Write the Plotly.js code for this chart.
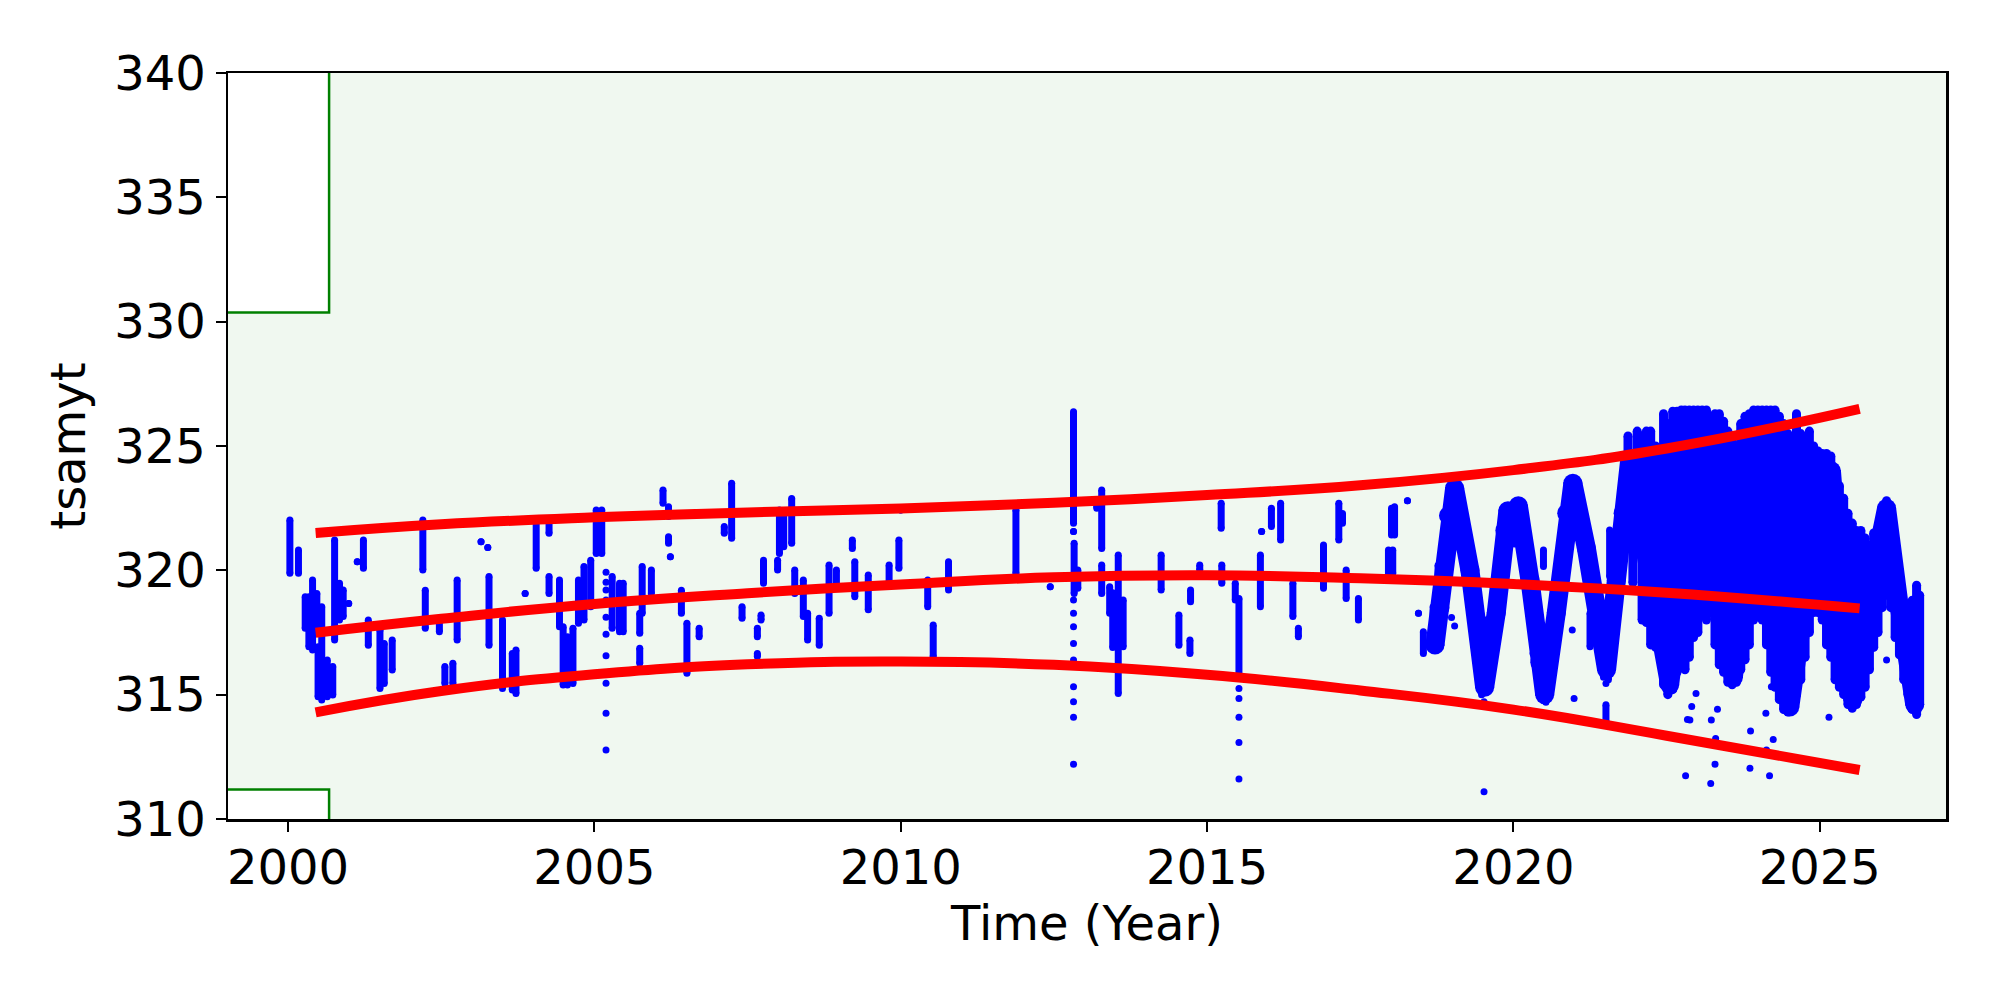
<!DOCTYPE html>
<html><head><meta charset="utf-8">
<script src="https://cdn.plot.ly/plotly-3.0.1.min.js"></script>
<style>body{margin:0;background:#fff}</style>
</head><body><div id="chart" style="width:2000px;height:1000px"></div>
<script>
// Tolerance band (step edges)
const bandX = [1990, 2000.67, 2035];
const bandLow = [311.19, 290, 290];
const bandHigh = [330.37, 360, 360];

// Fitted curves
const fitYear = [2000.45, 2002.5, 2005, 2007.5, 2010, 2012.5, 2015, 2017.5, 2020, 2022.5, 2025.65];
const fitUpper = [321.5, 321.85, 322.13, 322.33, 322.49, 322.72, 323.03, 323.42, 324.03, 324.9, 326.49];
const fitMiddle = [317.49, 318.05, 318.65, 319.08, 319.43, 319.72, 319.8, 319.68, 319.45, 319.1, 318.47];
const fitLower = [314.29, 315.15, 315.82, 316.22, 316.33, 316.2, 315.8, 315.17, 314.4, 313.35, 311.97];

// Sparse observation runs (vertical runs of consecutive readings)
const runYear = [2000.03,2000.17,2000.28,2000.34,2000.40,2000.47,2000.49,2000.55,2000.64,2000.73,2000.76,2000.84,2000.90,2000.99,2001.13,2001.23,2001.31,2001.50,2001.57,2001.70,
2002.20,2002.24,2002.47,2002.56,2002.69,2002.76,2003.15,2003.26,2003.28,2003.50,2003.66,2003.72,2003.87,2004.05,2004.26,2004.26,2004.43,2004.49,2004.56,2004.65,2004.74,2004.83,2004.94,
2005.03,2005.12,2005.29,2005.41,2005.47,2005.74,2005.74,2005.78,2005.93,2006.12,2006.21,2006.21,2006.24,2006.42,2006.51,2006.71,2007.12,2007.24,2007.41,2007.66,2007.66,2007.72,2007.76,2007.99,
2008.02,2008.09,2008.22,2008.27,2008.41,2008.48,2008.67,2008.83,2008.95,2009.21,2009.25,2009.47,2009.81,2009.97,2010.00,2010.44,2010.53,2010.78,2011.88,2012.44,2012.82,2012.82,2012.83,2012.89,
2013.20,2013.28,2013.28,2013.41,2013.46,2013.55,2013.63,2014.25,2014.54,2014.72,2014.73,2014.88,2015.23,2015.24,2015.46,2015.52,2015.87,2015.89,2016.05,2016.20,2016.40,2016.49,2016.90,
2017.15,2017.21,2017.27,2017.47,2017.96,2018.01,2018.06,2018.03,2018.27,2018.45,2018.53,2018.69,2020.49,2021.51,2021.57,2021.25,
2018.77,2019.48,2019.55,2020.45,2020.53,2021.47,2021.55];
const runLow = [319.88,319.88,317.67,316.93,316.8,317.47,314.92,314.79,314.92,314.99,317.2,318.0,318.14,318.67,320.35,320.08,316.99,315.25,315.45,315.99,
320.01,317.67,317.53,315.45,315.45,317.2,321.15,320.92,316.99,315.25,315.19,315.05,319.07,320.08,321.49,319.07,317.73,315.39,315.39,315.45,317.87,318.0,318.54,
320.68,320.68,317.67,317.53,317.53,317.47,316.26,318.27,319.07,322.7,322.16,321.09,320.55,318.27,315.86,317.33,321.49,321.29,318.07,317.33,316.53,318.0,319.48,320.01,
320.68,320.95,321.09,319.07,318.14,317.2,316.99,318.27,319.34,320.88,318.94,318.41,319.41,320.08,322.43,318.54,316.53,319.21,319.88,319.34,321.89,321.56,319.07,319.28,
322.5,320.88,319.07,318.27,316.9,315.05,316.93,319.21,316.99,316.66,318.74,320.01,321.69,319.48,318.81,315.66,318.54,321.56,321.76,321.22,318.14,317.33,319.28,
321.22,321.89,318.87,318.0,319.61,321.42,321.42,319.88,322.8,318.27,316.66,317.2,320.15,313.91,319.75,316.93,
317.6,315.0,315.1,315.3,314.7,315.7,315.6];
const runHigh = [322.02,320.82,318.94,318.94,319.61,319.07,316.93,318.54,316.39,316.13,321.22,319.48,319.21,318.67,320.35,321.22,318.0,317.6,317.06,317.2,
322.02,319.2,318.0,316.13,316.26,319.61,321.15,320.92,319.75,318.0,316.66,316.8,319.07,322.02,322.02,319.75,319.61,317.73,317.33,317.67,319.61,320.15,320.41,
322.43,322.43,319.75,319.48,319.48,318.27,316.87,320.15,320.01,323.23,322.56,321.35,320.55,319.2,317.87,317.67,321.76,323.5,318.54,317.67,316.66,318.2,320.41,320.41,
322.43,322.29,322.89,320.01,319.61,318.27,318.07,320.21,320.01,321.22,320.35,319.81,320.21,321.22,322.43,319.61,317.8,320.35,322.43,319.34,326.38,321.56,321.09,320.01,
322.63,323.23,320.21,319.34,319.1,320.62,318.81,320.62,318.2,317.2,319.21,320.21,322.7,320.21,319.48,318.87,320.62,321.56,322.5,322.7,319.48,317.67,321.02,
322.7,322.29,320.01,318.87,320.82,322.5,322.56,320.82,322.8,318.27,317.53,318.54,320.82,314.59,321.62,318.27,
320.2,317.8,318.0,317.6,317.2,317.9,318.4];

// Isolated readings
const dotYear = [2005.19,2005.19,2005.19,2005.19,2005.19,2005.19,2005.19,2005.19,2005.19,2005.19,
2012.82,2012.82,2012.82,2012.82,2012.82,2012.82,2012.82,2012.82,2012.82,
2015.52,2015.52,2015.52,2015.52,2015.52,
2018.99,2019.04,2019.52,2019.52,2020.32,2020.96,2020.99,2021.51,
2022.81,2022.84,2022.88,2022.91,2022.98,2023.22,2023.23,2023.29,2023.30,2023.33,2023.86,2023.87,2024.12,2024.13,2024.18,2024.21,2024.24,2024.24,2025.15,2026.09];
const dotValue = [319.92,319.52,319.21,318.81,318.11,317.43,316.57,315.46,314.25,312.77,
318.81,318.27,317.73,317.06,316.39,315.32,314.72,314.09,312.2,
315.25,314.85,314.09,313.08,311.61,
318.1,317.76,314.72,311.1,316.66,317.6,314.85,315.45,
311.74,314.0,313.98,314.52,315.05,311.43,313.98,312.2,313.24,314.41,312.04,313.54,314.25,312.77,311.74,315.32,313.2,315.99,314.09,316.39];

// Dense seasonal oscillation (2018.7 onward)
const waveYear = [2018.72,2018.80,2018.94,2019.04,2019.29,2019.45,2019.53,2019.72,2019.86,2019.91,2020.02,2020.08,2020.27,2020.43,2020.51,2020.70,2020.87,2020.97,
2021.19,2021.36,2021.52,2021.68,2021.79,2021.90,2022.10,2022.35,2022.55,2022.80,2023.00,2023.30,2023.59,2023.80,2024.00,2024.30,2024.51,2024.80,2025.19,2025.40,2025.54,2025.80,2026.09,2026.30,2026.55];
const waveValue = [317.0,318.5,322.2,323.3,320.0,317.0,315.3,318.3,321.6,322.4,321.3,322.6,319.6,316.3,315.0,318.3,322.3,323.5,
320.9,317.6,316.0,319.6,322.3,324.5,321.5,317.5,315.4,320.5,325.0,319.5,315.7,320.5,325.0,318.5,314.5,319.5,324.0,317.5,314.8,319.0,322.5,318.5,314.6];

// Dense span of readings (2021.9 onward)
const denseYear = [2021.87,2021.95,2022.02,2022.10,2022.17,2022.24,2022.32,2022.39,2022.45,2022.52,2022.60,2022.67,2022.74,2022.80,2022.87,2022.94,2023.01,2023.08,2023.15,2023.22,
2023.29,2023.36,2023.43,2023.50,2023.57,2023.64,2023.71,2023.78,2023.85,2023.92,2023.99,2024.06,2024.13,2024.20,2024.27,2024.34,2024.41,2024.48,2024.55,2024.62,
2024.69,2024.76,2024.83,2024.90,2024.97,2025.04,2025.11,2025.18,2025.25,2025.32,2025.39,2025.46,2025.53,2025.60,2025.67,2025.74,2025.81,2025.88,2025.95,2026.02,
2026.09,2026.16,2026.23,2026.30,2026.37,2026.44,2026.51,2026.58,2026.63];
const denseLow = [321.9,319.5,320.9,318.0,317.9,317.0,316.9,317.2,315.4,315.0,315.2,315.9,316.3,316.0,316.5,317.3,317.5,318.3,318.0,318.3,
317.0,316.2,315.9,315.5,315.4,315.5,316.0,316.4,317.0,318.0,318.3,318.0,317.0,315.9,315.3,314.8,314.4,314.3,314.4,315.0,
315.6,316.5,317.5,318.3,318.3,318.0,317.0,316.5,315.6,315.3,315.0,314.6,314.45,314.6,314.9,315.3,316.0,316.9,317.5,318.5,
319.0,318.5,317.3,316.6,315.6,315.0,314.4,314.2,314.6];
const denseHigh = [325.4,324.0,325.6,325.4,325.6,325.6,325.0,324.6,326.3,325.9,326.4,326.4,326.45,326.45,326.45,326.45,326.45,326.45,326.45,326.2,
326.3,326.3,326.0,325.6,325.2,325.0,325.9,326.2,326.3,326.45,326.45,326.45,326.45,326.45,326.45,326.2,325.9,325.5,325.2,326.3,
325.5,325.2,325.6,325.0,324.8,324.7,324.7,324.6,324.0,323.4,322.9,322.3,321.9,321.6,321.6,321.3,321.0,321.5,321.7,322.2,
322.8,322.0,320.8,319.8,318.7,318.5,318.8,319.4,319.0];

function toRuns(xs, lo, hi) {
  const x = [], y = [];
  for (let i = 0; i < xs.length; i++) { x.push(xs[i], xs[i], null); y.push(lo[i], hi[i], null); }
  return {x, y};
}
const sparse = toRuns(runYear, runLow, runHigh);
const dense = toRuns(denseYear, denseLow, denseHigh);
const BLUE = '#0000ff';

const traces = [
  {x: bandX, y: bandLow, mode: 'lines', line: {color: 'green', width: 2.5, shape: 'hv'}, hoverinfo: 'skip', showlegend: false},
  {x: bandX, y: bandHigh, mode: 'lines', line: {color: 'green', width: 2.5, shape: 'hv'}, fill: 'tonexty', fillcolor: 'rgba(0,128,0,0.06)', hoverinfo: 'skip', showlegend: false},
  {x: waveYear, y: waveValue, mode: 'lines+markers', line: {color: BLUE, width: 19}, marker: {color: BLUE, size: 19}, showlegend: false},
  {x: dense.x, y: dense.y, mode: 'lines+markers', line: {color: BLUE, width: 9}, marker: {color: BLUE, size: 9}, connectgaps: false, showlegend: false},
  {x: sparse.x, y: sparse.y, mode: 'lines+markers', line: {color: BLUE, width: 7}, marker: {color: BLUE, size: 7}, connectgaps: false, showlegend: false},
  {x: dotYear, y: dotValue, mode: 'markers', marker: {color: BLUE, size: 7}, showlegend: false},
  {x: fitYear, y: fitUpper, mode: 'lines', line: {color: '#ff0000', width: 10, shape: 'spline', smoothing: 1.3}, showlegend: false},
  {x: fitYear, y: fitMiddle, mode: 'lines', line: {color: '#ff0000', width: 10, shape: 'spline', smoothing: 1.3}, showlegend: false},
  {x: fitYear, y: fitLower, mode: 'lines', line: {color: '#ff0000', width: 10, shape: 'spline', smoothing: 1.3}, showlegend: false}
];

const font = {family: 'DejaVu Sans', size: 48, color: '#000'};
const layout = {
  width: 2000, height: 1000,
  margin: {l: 228, r: 54, t: 73, b: 181},
  paper_bgcolor: '#fff', plot_bgcolor: '#fff',
  font: font,
  showlegend: false,
  xaxis: {
    range: [1999.02, 2027.06], tickvals: [2000, 2005, 2010, 2015, 2020, 2025],
    ticks: 'outside', ticklen: 10, tickwidth: 2, tickcolor: '#000',
    ticklabelstandoff: -5,
    showline: true, linecolor: '#000', linewidth: 2.5, mirror: true,
    showgrid: false, zeroline: false, tickfont: font,
    title: {text: 'Time (Year)', font: font, standoff: 0}
  },
  yaxis: {
    range: [310, 340], tickvals: [310, 315, 320, 325, 330, 335, 340],
    ticks: 'outside', ticklen: 10, tickwidth: 2, tickcolor: '#000',
    showline: true, linecolor: '#000', linewidth: 2.5, mirror: true,
    showgrid: false, zeroline: false, tickfont: font,
    title: {text: 'tsamyt', font: font, standoff: 14}
  }
};
Plotly.newPlot('chart', traces, layout, {staticPlot: true, displayModeBar: false});
</script></body></html>
